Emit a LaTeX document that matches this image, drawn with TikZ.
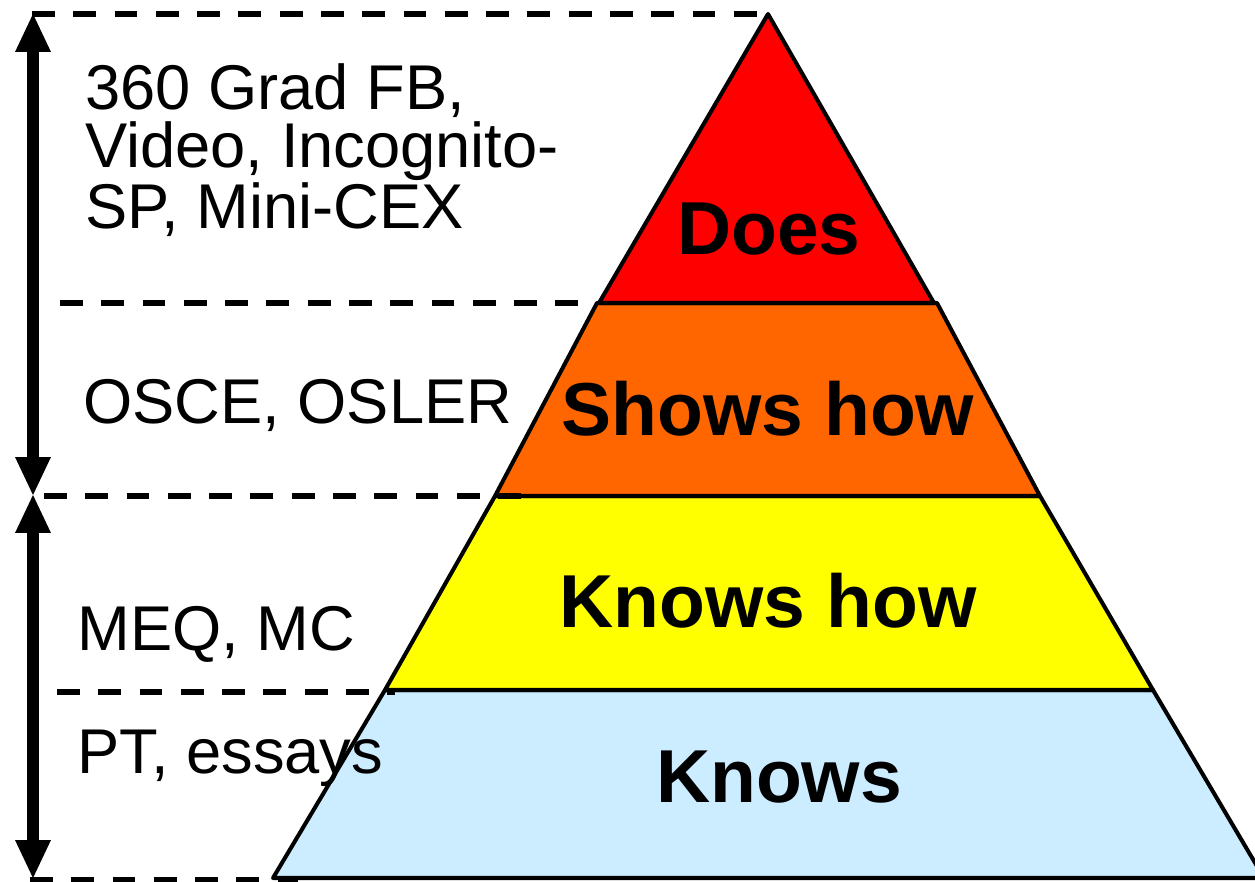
\documentclass[tikz,border=0pt]{standalone}
\usepackage{fontspec}
\setmainfont{Liberation Sans}
\usetikzlibrary{arrows.meta}
\definecolor{doesRed}{HTML}{FF0000}
\definecolor{showsOrange}{HTML}{FF6600}
\definecolor{knowsHowYellow}{HTML}{FFFF00}
\definecolor{knowsBlue}{HTML}{CCECFF}

\begin{document}
\begin{tikzpicture}[x = 0.02cm, y = -0.02cm]
\tikzstyle{layerStyle} = [draw, line width = 2.3pt, line join = round]
\tikzstyle{levelStyle} = [font = \fontsize{42.7}{48}\selectfont\bfseries, inner sep = 0pt, anchor = base]
\tikzstyle{methodStyle} = [font = \fontsize{36}{33}\selectfont, inner sep = 0pt, anchor = base west, align = left]
\tikzstyle{borderStyle} = [line width = 3.2pt, dash pattern = on 13pt off 10.5pt]
\tikzstyle{rangeStyle} = [line width = 6.8pt, {Triangle[width = 0.72cm, length = 0.76cm, line width = 0pt]}-{Triangle[width = 0.72cm, length = 0.76cm, line width = 0pt]}]
\useasboundingbox (0,0) rectangle (1255,882);
\fill[white] (0,0) rectangle (1255,882);
\coordinate (apex) at (768,14);
\coordinate (d1) at (599,303);
\coordinate (d2) at (934,303);
\coordinate (s1) at (597,303);
\coordinate (s2) at (937,303);
\coordinate (k1) at (495,496);
\coordinate (k2) at (1040,496);
\coordinate (b1) at (385,690);
\coordinate (b2) at (1153,690);
\coordinate (c1) at (273,878);
\coordinate (c2) at (1264,878);
\filldraw[layerStyle, fill = knowsBlue] (b1) -- (b2) -- (c2) -- (c1) -- cycle;
\filldraw[layerStyle, fill = knowsHowYellow] (k1) -- (k2) -- (b2) -- (b1) -- cycle;
\filldraw[layerStyle, fill = showsOrange] (s1) -- (s2) -- (k2) -- (k1) -- cycle;
\filldraw[layerStyle, fill = doesRed] (apex) -- (d2) -- (d1) -- cycle;
\node[levelStyle] (does) at (769,255) {Does};
\node[levelStyle] (showsHow) at (768,435) {Shows how};
\node[levelStyle] (knowsHow) at (768,627) {Knows how};
\node[levelStyle] (knows) at (779,802) {Knows};
\coordinate (g0) at (32,14);
\coordinate (g1) at (60,303);
\coordinate (g1e) at (590,303);
\coordinate (g2) at (44,496);
\coordinate (g2e) at (528,496);
\coordinate (g3) at (57,692);
\coordinate (g3e) at (395,692);
\coordinate (g4) at (30,880);
\coordinate (g4e) at (298,880);
\draw[borderStyle] (g0) -- (apex);
\draw[borderStyle] (g1) -- (g1e);
\draw[borderStyle] (g2) -- (g2e);
\draw[borderStyle] (g3) -- (g3e);
\draw[borderStyle] (g4) -- (g4e);
\node[methodStyle] (workplace) at (85,228) {360 Grad FB,\\Video, Incognito-\\SP, Mini-CEX};
\node[methodStyle] (osce) at (83,423) {OSCE, OSLER};
\node[methodStyle] (meq) at (77,650) {MEQ, MC};
\node[methodStyle] (essays) at (77,773) {PT, essays};
\coordinate (r0) at (33,14);
\coordinate (r1) at (33,495);
\coordinate (r2) at (33,878);
\draw[rangeStyle] (r0) -- (r1);
\draw[rangeStyle] (r1) -- (r2);
\end{tikzpicture}
\end{document}
